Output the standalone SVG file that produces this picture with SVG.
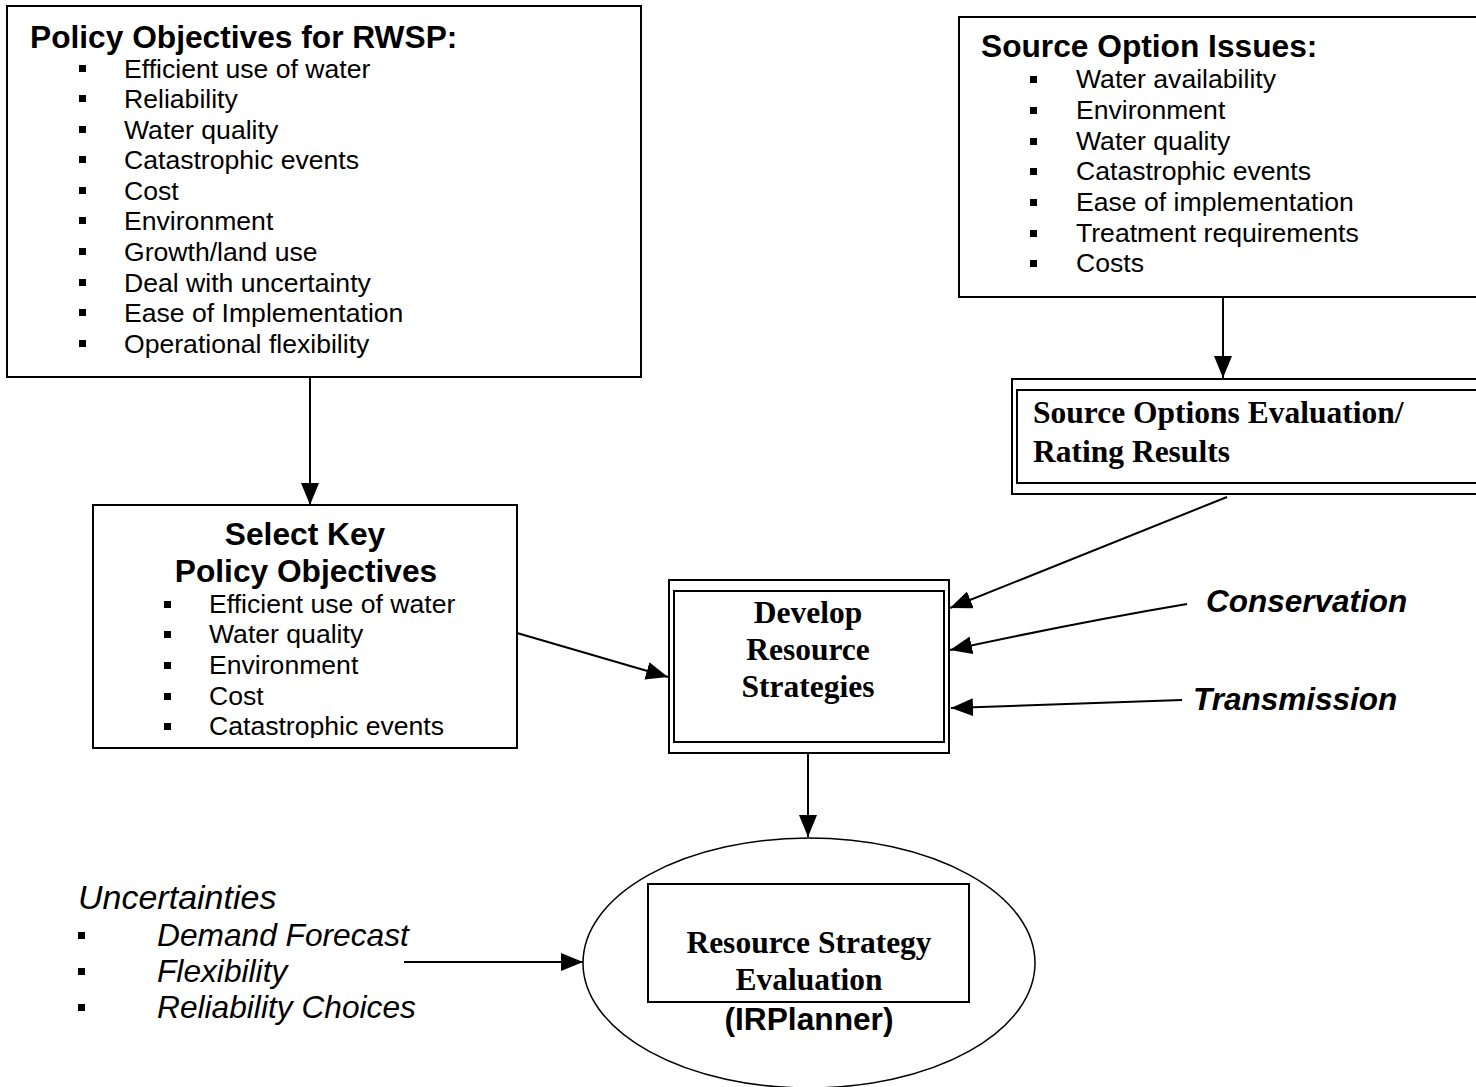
<svg xmlns="http://www.w3.org/2000/svg" width="1476" height="1087" viewBox="0 0 1476 1087">
<style>
.box{fill:#fff;stroke:#000;stroke-width:2}
.conn{fill:none;stroke:#000;stroke-width:2}
.h{font-family:"Liberation Sans",Arial,sans-serif;font-weight:bold;font-size:31.7px;fill:#000}
.it{font-family:"Liberation Sans",Arial,sans-serif;font-size:26.6px;fill:#000}
.tb{font-family:"Liberation Serif","Times New Roman",serif;font-weight:bold;font-size:31.5px;fill:#000}
.bi{font-family:"Liberation Sans",Arial,sans-serif;font-weight:bold;font-style:italic;font-size:31.5px;fill:#000}
.i{font-family:"Liberation Sans",Arial,sans-serif;font-style:italic;font-size:31.7px;fill:#000}
.iu{font-family:"Liberation Sans",Arial,sans-serif;font-style:italic;font-size:34px;fill:#000}
.bul{fill:#000}
</style>
<defs>
<marker id="ah" markerUnits="userSpaceOnUse" markerWidth="22" markerHeight="18" refX="22" refY="9" orient="auto">
<path d="M0,0 L22,9 L0,18 z" fill="#000"/>
</marker>
<clipPath id="clip4"><rect x="93" y="505" width="424" height="233"/></clipPath>
</defs>

<g id="policy-objectives">
<rect class="box" x="7" y="6" width="634" height="371"/>
<text class="h" x="30" y="48">Policy Objectives for RWSP:</text>
<g class="bul">
<rect x="79" y="65" width="7" height="7"/><rect x="79" y="95" width="7" height="7"/><rect x="79" y="126" width="7" height="7"/><rect x="79" y="156" width="7" height="7"/><rect x="79" y="187" width="7" height="7"/><rect x="79" y="217" width="7" height="7"/><rect x="79" y="248" width="7" height="7"/><rect x="79" y="279" width="7" height="7"/><rect x="79" y="309" width="7" height="7"/><rect x="79" y="340" width="7" height="7"/>
</g>
<text class="it" x="124" y="78">Efficient use of water</text>
<text class="it" x="124" y="108">Reliability</text>
<text class="it" x="124" y="139">Water quality</text>
<text class="it" x="124" y="169">Catastrophic events</text>
<text class="it" x="124" y="200">Cost</text>
<text class="it" x="124" y="230">Environment</text>
<text class="it" x="124" y="261">Growth/land use</text>
<text class="it" x="124" y="292">Deal with uncertainty</text>
<text class="it" x="124" y="322">Ease of Implementation</text>
<text class="it" x="124" y="353">Operational flexibility</text>
</g>

<g id="source-option-issues">
<rect class="box" x="959" y="17" width="530" height="280"/>
<text class="h" x="981" y="57">Source Option Issues:</text>
<g class="bul">
<rect x="1030" y="76" width="7" height="7"/><rect x="1030" y="107" width="7" height="7"/><rect x="1030" y="138" width="7" height="7"/><rect x="1030" y="168" width="7" height="7"/><rect x="1030" y="199" width="7" height="7"/><rect x="1030" y="230" width="7" height="7"/><rect x="1030" y="260" width="7" height="7"/>
</g>
<text class="it" x="1076" y="88">Water availability</text>
<text class="it" x="1076" y="119">Environment</text>
<text class="it" x="1076" y="150">Water quality</text>
<text class="it" x="1076" y="180">Catastrophic events</text>
<text class="it" x="1076" y="211">Ease of implementation</text>
<text class="it" x="1076" y="242">Treatment requirements</text>
<text class="it" x="1076" y="272">Costs</text>
</g>

<g id="source-options-evaluation">
<rect class="box" x="1012" y="379" width="480" height="115"/>
<rect class="box" x="1017" y="390" width="470" height="93"/>
<text class="tb" x="1033" y="423">Source Options Evaluation/</text>
<text class="tb" x="1033" y="462">Rating Results</text>
</g>

<g id="select-key-policy-objectives">
<rect class="box" x="93" y="505" width="424" height="243"/>
<g clip-path="url(#clip4)">
<text class="h" x="305" y="545" text-anchor="middle">Select Key</text>
<text class="h" x="306" y="582" text-anchor="middle">Policy Objectives</text>
<g class="bul">
<rect x="164" y="601" width="7" height="7"/><rect x="164" y="631" width="7" height="7"/><rect x="164" y="662" width="7" height="7"/><rect x="164" y="693" width="7" height="7"/><rect x="164" y="723" width="7" height="7"/>
</g>
<text class="it" x="209" y="613">Efficient use of water</text>
<text class="it" x="209" y="643">Water quality</text>
<text class="it" x="209" y="674">Environment</text>
<text class="it" x="209" y="705">Cost</text>
<text class="it" x="209" y="735">Catastrophic events</text>
</g>
</g>

<g id="develop-resource-strategies">
<rect class="box" x="669" y="580" width="280" height="173"/>
<rect class="box" x="674" y="591" width="270" height="151"/>
<text class="tb" x="808" y="623" text-anchor="middle">Develop</text>
<text class="tb" x="808" y="660" text-anchor="middle">Resource</text>
<text class="tb" x="808" y="697" text-anchor="middle">Strategies</text>
</g>

<g id="conservation">
<text class="bi" x="1206" y="612">Conservation</text>
</g>
<g id="transmission">
<text class="bi" x="1193" y="710">Transmission</text>
</g>

<g id="uncertainties">
<text class="iu" x="78" y="909">Uncertainties</text>
<g class="bul">
<rect x="78" y="932" width="7" height="7"/><rect x="78" y="968" width="7" height="7"/><rect x="78" y="1004" width="7" height="7"/>
</g>
<text class="i" x="157" y="946">Demand Forecast</text>
<text class="i" x="157" y="982">Flexibility</text>
<text class="i" x="157" y="1018">Reliability Choices</text>
</g>

<g id="resource-strategy-evaluation">
<ellipse cx="809" cy="963" rx="226" ry="125" fill="#fff" stroke="#000" stroke-width="1.5"/>
<rect class="box" x="648" y="884" width="321" height="118"/>
<text class="tb" x="809" y="953" text-anchor="middle">Resource Strategy</text>
<text class="tb" x="809" y="990" text-anchor="middle">Evaluation</text>
<text class="h" x="809" y="1030" text-anchor="middle">(IRPlanner)</text>
</g>

<g id="connectors">
<line class="conn" x1="310" y1="377" x2="310" y2="505" marker-end="url(#ah)"/>
<line class="conn" x1="1223" y1="297" x2="1223" y2="378" marker-end="url(#ah)"/>
<line class="conn" x1="517" y1="633" x2="668" y2="677" marker-end="url(#ah)"/>
<line class="conn" x1="1227" y1="497" x2="950" y2="608" marker-end="url(#ah)"/>
<path class="conn" d="M1187,604 Q1080,622 950,650" marker-end="url(#ah)"/>
<line class="conn" x1="1182" y1="700" x2="951" y2="708" marker-end="url(#ah)"/>
<line class="conn" x1="808" y1="753" x2="808" y2="837" marker-end="url(#ah)"/>
<line class="conn" x1="404" y1="962" x2="583" y2="962" marker-end="url(#ah)"/>
</g>
</svg>
